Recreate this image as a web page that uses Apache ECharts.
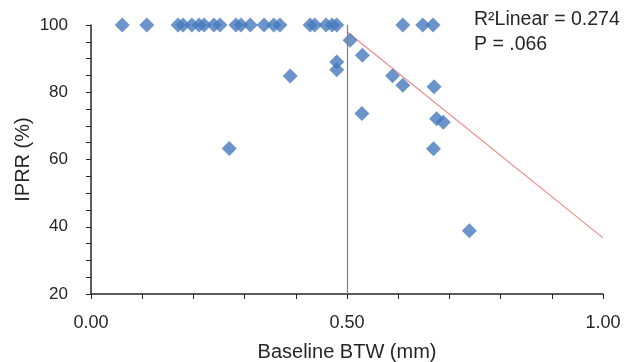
<!DOCTYPE html>
<html>
<head>
<meta charset="utf-8">
<script src="https://cdn.jsdelivr.net/npm/echarts@6/dist/echarts.min.js"></script>
<style>
  html, body { margin: 0; padding: 0; background: #fff; }
  #chart { width: 636px; height: 362px; }
</style>
</head>
<body>
<div id="chart"></div>
<script>
// baseline BTW (mm) vs IPRR (%)
const btw = [
  0.061, 0.109, 0.170, 0.180, 0.197, 0.211, 0.221, 0.240, 0.252, 0.283, 0.293, 0.311,
  0.338, 0.357, 0.369, 0.428, 0.437, 0.459, 0.471, 0.480, 0.609, 0.648, 0.668,
  0.270, 0.389, 0.480, 0.480, 0.506, 0.530, 0.529, 0.589, 0.609, 0.670, 0.675, 0.688, 0.669, 0.739
];
const iprr = [
  100, 100, 100, 100, 100, 100, 100, 100, 100, 100, 100, 100,
  100, 100, 100, 100, 100, 100, 100, 100, 100, 100, 100,
  63.3, 84.8, 89.0, 86.7, 95.5, 91.0, 73.7, 84.9, 82.1, 81.6, 72.1, 71.1, 63.2, 38.8
];
const fitLine = [[0.5, 98.0], [1.0, 36.7]];
const cutoff = 0.5;
const statText = ['R²Linear = 0.274', 'P = .066'];

const chart = echarts.init(document.getElementById('chart'));
const font = 'Liberation Sans, Arial, sans-serif';
const axisColor = '#262626';

const option = {
  animation: false,
  grid: { left: 91, right: 33, top: 25, bottom: 68, outerBoundsMode: 'none', containLabel: false },
  xAxis: {
    type: 'value',
    min: 0,
    max: 1,
    interval: 0.1,
    name: 'Baseline BTW (mm)',
    nameLocation: 'middle',
    nameGap: 48,
    nameMoveOverlap: false,
    nameTextStyle: { fontFamily: font, fontSize: 20, color: '#262626' },
    axisLine: { lineStyle: { color: axisColor, width: 1.5 } },
    axisTick: { show: true, inside: false, length: 5, lineStyle: { color: axisColor } },
    splitLine: { show: false },
    axisLabel: {
      margin: 20,
      fontFamily: font,
      fontSize: 18,
      color: '#262626',
      formatter: function (v) {
        return Math.abs(v * 2 - Math.round(v * 2)) < 1e-6 ? v.toFixed(2) : '';
      }
    }
  },
  yAxis: {
    type: 'value',
    min: 20,
    max: 100,
    interval: 5,
    name: 'IPRR (%)',
    nameLocation: 'middle',
    nameGap: 58,
    nameMoveOverlap: false,
    nameTextStyle: { fontFamily: font, fontSize: 20, color: '#262626' },
    axisLine: { show: true, lineStyle: { color: axisColor, width: 1.5 } },
    axisTick: { show: true, inside: false, length: 5, lineStyle: { color: axisColor } },
    splitLine: { show: false },
    axisLabel: {
      margin: 23,
      fontFamily: font,
      fontSize: 17,
      color: '#262626',
      formatter: function (v) {
        return v % 20 === 0 ? String(v) : '';
      }
    }
  },
  graphic: [
    {
      type: 'text',
      left: 474,
      top: 7,
      style: {
        text: statText.join('\n'),
        font: '19.5px ' + font,
        fill: '#262626',
        lineHeight: 25
      }
    }
  ],
  series: [
    {
      type: 'scatter',
      symbol: 'diamond',
      symbolSize: 15,
      itemStyle: { color: '#4679bd' },
      data: btw.map((x, i) => [x, iprr[i]]),
      z: 3
    },
    {
      type: 'line',
      data: fitLine,
      symbol: 'none',
      lineStyle: { color: '#f08a8a', width: 1.2 },
      z: 2,
      markLine: {
        silent: true,
        symbol: 'none',
        label: { show: false },
        lineStyle: { color: '#808080', width: 1.2, type: 'solid' },
        data: [{ xAxis: cutoff }]
      }
    }
  ]
};
chart.setOption(option);
</script>
</body>
</html>
